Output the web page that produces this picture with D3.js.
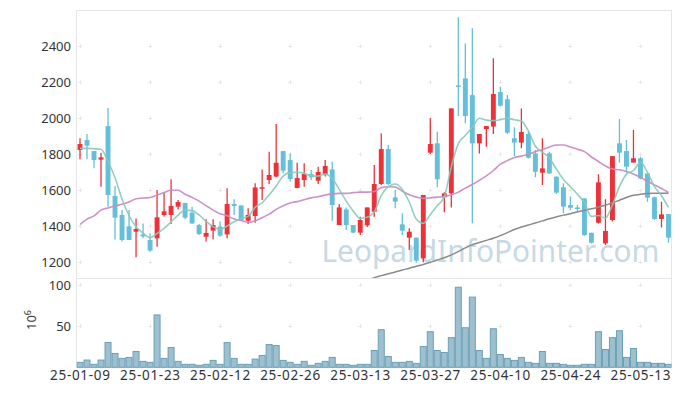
<!DOCTYPE html>
<html><head><meta charset="utf-8">
<script src="https://cdn.jsdelivr.net/npm/d3@7"></script>
<style>html,body{margin:0;padding:0;background:#fff;}svg{display:block;}</style>
</head><body>
<svg id="c" width="680" height="396"></svg>
<script>
const dates = ["25-01-09","25-01-10","25-01-13","25-01-14","25-01-15","25-01-16","25-01-17","25-01-20","25-01-21","25-01-22",
"25-01-23","25-01-24","25-01-31","25-02-03","25-02-04","25-02-05","25-02-06","25-02-07","25-02-10","25-02-11",
"25-02-12","25-02-13","25-02-14","25-02-17","25-02-18","25-02-19","25-02-20","25-02-21","25-02-24","25-02-25",
"25-02-26","25-02-27","25-02-28","25-03-04","25-03-05","25-03-06","25-03-07","25-03-10","25-03-11","25-03-12",
"25-03-13","25-03-14","25-03-17","25-03-18","25-03-19","25-03-20","25-03-21","25-03-24","25-03-25","25-03-26",
"25-03-27","25-03-28","25-03-31","25-04-01","25-04-02","25-04-03","25-04-04","25-04-07","25-04-08","25-04-09",
"25-04-10","25-04-11","25-04-14","25-04-15","25-04-16","25-04-17","25-04-18","25-04-21","25-04-22","25-04-23",
"25-04-24","25-04-25","25-04-28","25-04-29","25-04-30","25-05-02","25-05-07","25-05-08","25-05-09","25-05-12",
"25-05-13","25-05-14","25-05-15","25-05-16","25-05-19"];
const tickDates = ["25-01-09","25-01-23","25-02-12","25-02-26","25-03-13","25-03-27","25-04-10","25-04-24","25-05-13"];
const priceTicks = [1200,1400,1600,1800,2000,2200,2400];
const volumeTicks = [50,100];

const open  = [1824,1879,1818,1770,1957,1568,1463,1400,1370,1355,1324,1333,1463,1463,1509,1529,1476,1407,1342,1376,
1398,1355,1524,1516,1431,1457,1614,1657,1676,1818,1768,1613,1657,1690,1653,1687,1716,1407,1494,1407,
1365,1405,1481,1635,1829,1561,1411,1337,1337,1222,1809,1861,1561,1583,2183,2222,2129,1861,1940,1954,
2146,2106,1889,1865,1913,1805,1698,1805,1676,1617,1518,1505,1555,1364,1420,1305,1435,1861,1818,1754,
1778,1694,1561,1441,1468];
const high  = [1889,1913,1818,1809,2057,1624,1490,1490,1444,1416,1361,1602,1587,1661,1546,1531,1509,1413,1439,1439,
1426,1611,1550,1516,1500,1639,1716,1814,1968,1818,1805,1753,1750,1713,1731,1768,1759,1524,1505,1407,
1453,1505,1741,1916,1852,1602,1472,1389,1337,1574,2000,1926,1589,2055,2561,2416,2500,1913,1957,2333,
2176,2130,1950,2055,1926,1824,1889,1814,1676,1639,1565,1518,1555,1364,1689,1550,1790,1996,1879,1935,
1787,1698,1565,1537,1468];
const low   = [1772,1772,1722,1620,1509,1327,1315,1324,1228,1333,1259,1287,1454,1413,1494,1439,1413,1352,1315,1327,
1342,1333,1463,1431,1413,1420,1546,1635,1672,1694,1648,1611,1620,1657,1635,1676,1431,1407,1379,1361,
1352,1396,1453,1629,1629,1500,1352,1268,1198,1200,1802,1617,1478,1505,2013,1972,1417,1805,1842,1913,
2065,1913,1791,1833,1777,1672,1629,1690,1579,1472,1490,1481,1346,1305,1416,1296,1426,1754,1698,1754,
1661,1537,1435,1394,1309];
const close = [1857,1848,1768,1783,1574,1448,1324,1324,1385,1344,1265,1450,1483,1513,1535,1448,1416,1357,1363,1407,
1348,1524,1513,1435,1463,1616,1617,1685,1753,1709,1663,1668,1690,1672,1702,1735,1518,1505,1407,1365,
1435,1505,1635,1829,1635,1537,1376,1370,1209,1574,1857,1661,1583,2055,2176,2013,1861,1913,1957,2135,
2070,1920,1865,1924,1781,1703,1722,1694,1587,1509,1503,1496,1351,1309,1644,1374,1790,1809,1731,1778,
1666,1559,1441,1466,1337];
const volume = [6.0,8.8,3.6,8.8,30.0,16.8,10.8,12.0,19.2,7.2,
6.0,63.6,10.8,24.0,7.2,3.6,3.6,2.4,3.6,8.4,
3.6,30.0,10.8,3.6,3.6,10.0,14.4,27.6,26.4,8.4,
6.0,3.6,7.2,2.4,4.8,7.2,12.0,3.6,3.6,2.4,
3.6,3.6,20.4,45.6,13.2,6.0,6.0,7.2,4.8,25.2,
43.2,20.4,18.0,36.0,97.2,48.0,85.2,20.4,10.8,46.8,
15.6,10.8,8.4,12.0,6.0,4.8,19.2,4.8,4.8,3.6,
2.4,2.4,3.6,3.6,43.2,21.6,36.0,44.4,12.0,22.8,
6.0,6.0,4.8,4.8,3.6];
const ma5 = [1833,1833,1831,1828,1760,1670,1550,1460,1398,1362,1337,1360,1388,1425,1462,1490,1487,1463,1427,1398,
1383,1402,1425,1444,1455,1505,1531,1574,1624,1679,1698,1700,1694,1680,1679,1690,1666,1605,1540,1485,
1444,1450,1480,1570,1620,1635,1605,1535,1440,1416,1465,1515,1565,1730,1860,1905,1950,2000,1990,1987,
1992,2000,1992,1985,1930,1845,1812,1780,1718,1660,1620,1578,1530,1455,1460,1445,1520,1620,1690,1710,
1755,1700,1620,1570,1505];
const ma20 = [1410,1440,1458,1490,1502,1514,1522,1535,1553,1557,1560,1574,1588,1600,1600,1578,1560,1540,1515,1490,
1470,1458,1440,1432,1422,1430,1448,1468,1494,1514,1530,1537,1548,1558,1564,1574,1580,1583,1583,1587,
1590,1590,1593,1615,1620,1618,1595,1575,1562,1555,1558,1562,1566,1575,1590,1612,1632,1655,1680,1710,
1745,1765,1782,1790,1800,1815,1826,1840,1852,1852,1840,1828,1815,1785,1760,1735,1718,1714,1705,1690,
1672,1650,1630,1610,1588];
const ma60 = [null,null,null,null,null,null,null,null,null,null,null,null,null,null,null,null,null,null,null,null,
null,null,null,null,null,null,null,null,null,null,null,null,null,null,null,null,null,null,null,null,
null,1100,1115,1126,1136,1146,1157,1167,1178,1188,1200,1213,1225,1241,1260,1280,1298,1310,1322,1334,
1348,1365,1382,1396,1407,1418,1430,1442,1452,1462,1470,1480,1488,1497,1507,1517,1530,1545,1560,1572,
1578,1582,1583,1583,1583];

const svg = d3.select("#c");
const L = 76.5, R = 671.5, T = 10, MID = 278, B = 367.3;
const n = dates.length;
const x = d3.scaleBand().domain(d3.range(n)).range([L, 672]).padding(0);
const bw = x.bandwidth();
const cx = i => x(i) + bw / 2;
const y = d3.scaleLinear().domain([1112.8, 2601.7]).range([MID, T]);
const yv = d3.scaleLinear().domain([0, 108.4]).range([B, MID]);
const FONT = "'Noto Sans', 'Open Sans', sans-serif";
const RED = "#ec3238", BLUE = "#66bfd8";

const defs = svg.append("defs");
defs.append("clipPath").attr("id","cpMain").append("rect").attr("x",L).attr("y",T).attr("width",R-L).attr("height",MID-T);
defs.append("clipPath").attr("id","cpVol").append("rect").attr("x",L).attr("y",MID).attr("width",R-L).attr("height",B-MID+1);

// frame
svg.append("rect").attr("x",L).attr("y",T+0.5).attr("width",R-L).attr("height",B-T).attr("fill","none").attr("stroke","#e6e6e6");
svg.append("line").attr("x1",L).attr("x2",R).attr("y1",MID+0.5).attr("y2",MID+0.5).attr("stroke","#e6e6e6");

// watermark
svg.append("text").attr("x",321.5).attr("y",261.7).attr("font-family",FONT).attr("font-size",31)
  .attr("textLength",338).attr("lengthAdjust","spacingAndGlyphs")
  .attr("fill","#c6d9e4").text("LeopardInfoPointer.com");

// cross grid marks
const tickIdx = tickDates.map(d => dates.indexOf(d));
const crosses = [];
tickIdx.forEach(i => {
  priceTicks.forEach(v => crosses.push([cx(i), y(v)]));
  volumeTicks.forEach(v => crosses.push([cx(i), yv(v)]));
});
const cg = svg.append("g").attr("stroke","#e8e8e8").attr("stroke-width",1);
crosses.forEach(([px,py]) => {
  cg.append("line").attr("x1",px-2).attr("x2",px+2).attr("y1",Math.round(py)+0.5).attr("y2",Math.round(py)+0.5);
  cg.append("line").attr("x1",Math.round(px)+0.5).attr("x2",Math.round(px)+0.5).attr("y1",py-2).attr("y2",py+2);
});

// candles
const gm = svg.append("g").attr("clip-path","url(#cpMain)");
const idx = d3.range(n);
gm.selectAll("line.wick").data(idx).join("line").attr("class","wick")
  .attr("x1",i=>cx(i)).attr("x2",i=>cx(i)).attr("y1",i=>y(high[i])).attr("y2",i=>y(low[i]))
  .attr("stroke",i=>close[i]>=open[i]?RED:BLUE).attr("stroke-width",1.3);
gm.selectAll("rect.body").data(idx).join("rect").attr("class","body")
  .attr("x",i=>cx(i)-bw*0.35).attr("width",bw*0.7)
  .attr("y",i=>y(Math.max(open[i],close[i])))
  .attr("height",i=>Math.max(1.5, Math.abs(y(open[i])-y(close[i]))))
  .attr("fill",i=>close[i]>=open[i]?RED:BLUE);

// moving averages
const lineGen = arr => d3.line().defined(i=>arr[i]!=null).x(i=>cx(i)).y(i=>y(arr[i])).curve(d3.curveMonotoneX)(idx);
gm.append("path").attr("d",lineGen(ma60)).attr("fill","none").attr("stroke","#8a8a8a").attr("stroke-width",1.5);
gm.append("path").attr("d",lineGen(ma20)).attr("fill","none").attr("stroke","#c98bc3").attr("stroke-width",1.6).attr("opacity",0.95);
gm.append("path").attr("d",lineGen(ma5)).attr("fill","none").attr("stroke","#86c9bb").attr("stroke-width",1.6).attr("opacity",0.9);

// volume
const gv = svg.append("g").attr("clip-path","url(#cpVol)");
gv.selectAll("rect").data(idx).join("rect")
  .attr("x",i=>x(i)+0.5).attr("width",bw-1)
  .attr("y",i=>yv(volume[i])).attr("height",i=>B-yv(volume[i]))
  .attr("fill","#9cc0d0").attr("stroke","#6c9fb6").attr("stroke-width",1);

// axis labels
const yAxis = d3.axisLeft(y).tickValues(priceTicks).tickFormat(d3.format("d")).tickSize(0).tickPadding(0);
const ga = svg.append("g").attr("transform",`translate(71,0)`).call(yAxis);
const yvAxis = d3.axisLeft(yv).tickValues(volumeTicks).tickFormat(d3.format("d")).tickSize(0).tickPadding(0);
const gb = svg.append("g").attr("transform",`translate(71,0)`).call(yvAxis);
[ga,gb].forEach(g=>{ g.select(".domain").remove(); g.selectAll("text").attr("font-family",FONT).attr("font-size",13).attr("fill","#333"); });

const xAxis = d3.axisBottom(x).tickValues(tickIdx).tickFormat(i=>dates[i]).tickSize(0).tickPadding(0);
const gx = svg.append("g").attr("transform",`translate(0,367)`).call(xAxis);
gx.select(".domain").remove();
gx.selectAll("text").attr("font-family",FONT).attr("font-size",13.5).attr("fill","#333")
  .attr("dy","0.95em").attr("textLength",60).attr("lengthAdjust","spacing");

// volume unit label
const ul = svg.append("text").attr("font-family",FONT).attr("fill","#333")
  .attr("transform","translate(36,320) rotate(-90)").attr("text-anchor","middle").attr("font-size",13);
ul.append("tspan").text("10");
ul.append("tspan").attr("dy",-5).attr("font-size",9).text("6");
</script>
</body></html>
